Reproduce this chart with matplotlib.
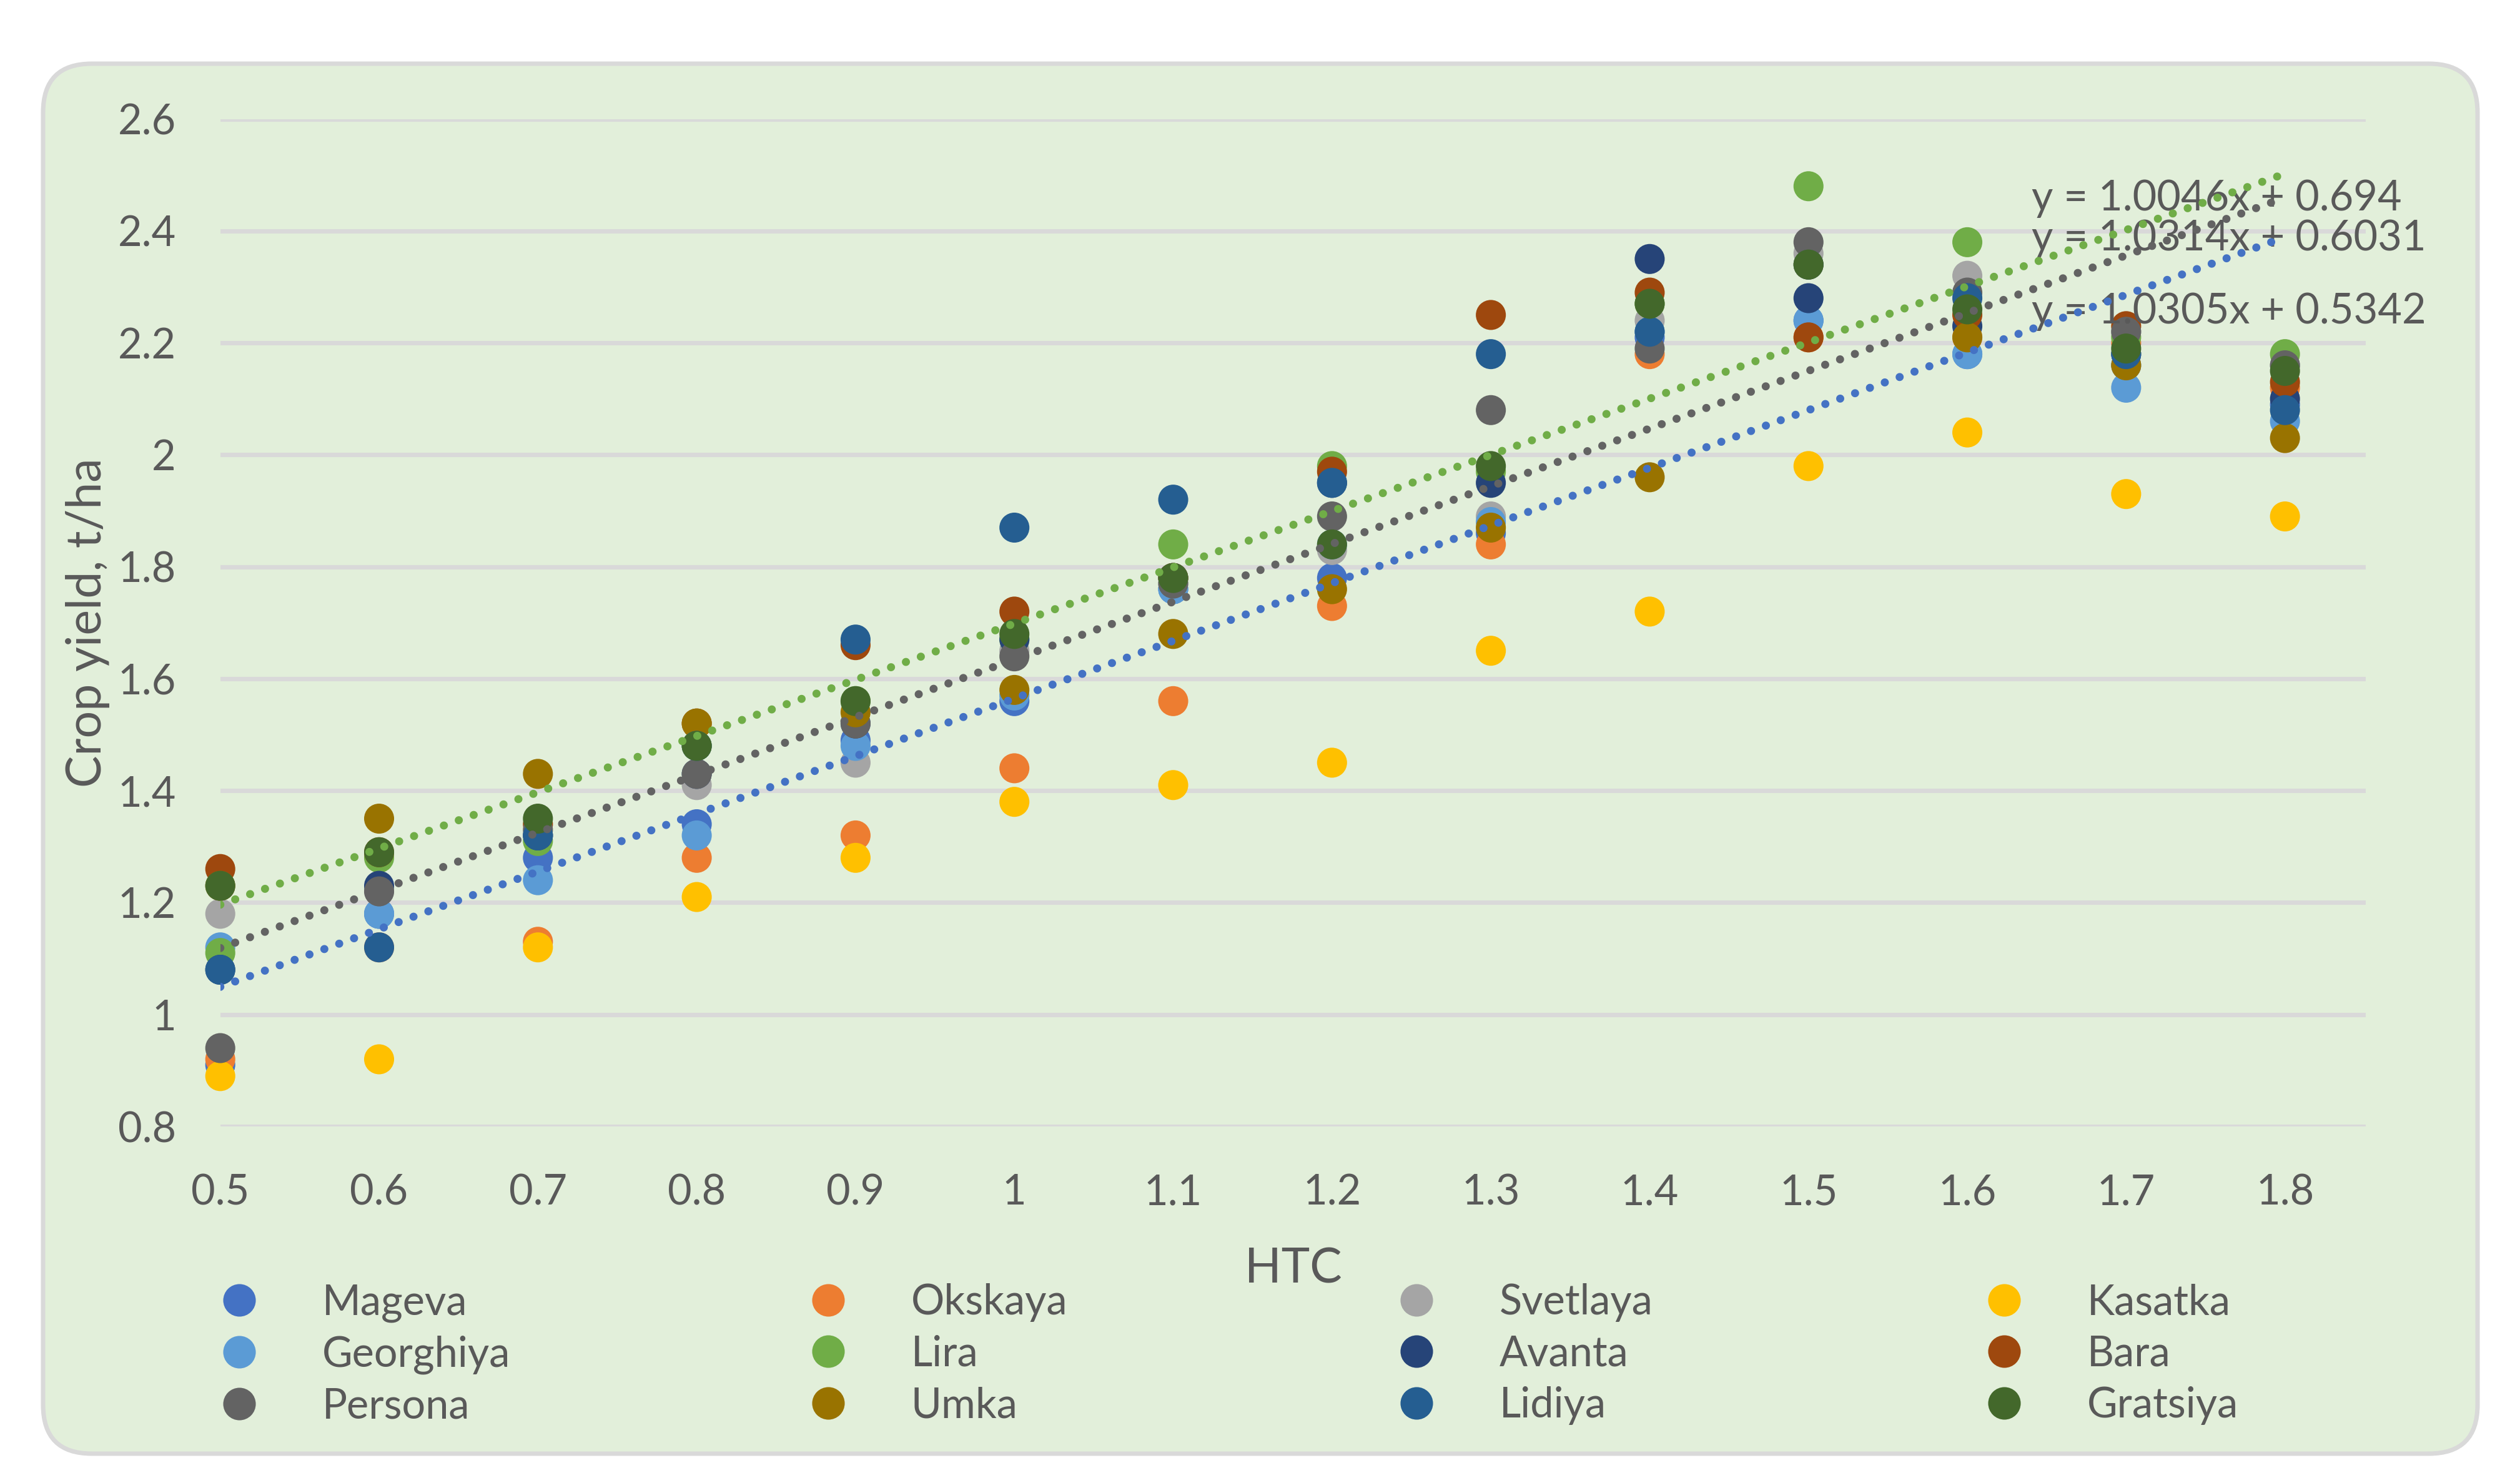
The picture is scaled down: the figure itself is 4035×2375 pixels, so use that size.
import matplotlib.pyplot as plt
from matplotlib.patches import FancyBboxPatch
from matplotlib.transforms import IdentityTransform
from matplotlib.lines import Line2D
from matplotlib.ticker import FuncFormatter

plt.rcParams['font.family'] = ['Lato', 'DejaVu Sans']

# HTC values on the x axis
htc = [0.5, 0.6, 0.7, 0.8, 0.9, 1.0, 1.1, 1.2, 1.3, 1.4, 1.5, 1.6, 1.7, 1.8]

# crop yield, t/ha, per variety
mageva    = [0.91, 1.18, 1.28, 1.34, 1.49, 1.56, 1.76, 1.78, 1.86, 2.21, 2.24, 2.18, 2.16, 2.09]
okskaya   = [0.92, 1.12, 1.13, 1.28, 1.32, 1.44, 1.56, 1.73, 1.84, 2.18, 2.21, 2.21, 2.20, 2.12]
svetlaya  = [1.18, 1.22, 1.32, 1.41, 1.45, 1.65, 1.77, 1.83, 1.89, 2.24, 2.36, 2.32, 2.22, 2.16]
kasatka   = [0.89, 0.92, 1.12, 1.21, 1.28, 1.38, 1.41, 1.45, 1.65, 1.72, 1.98, 2.04, 1.93, 1.89]
georghiya = [1.12, 1.18, 1.24, 1.32, 1.48, 1.57, 1.76, 1.84, 1.88, 2.22, 2.24, 2.18, 2.12, 2.06]
lira      = [1.11, 1.28, 1.31, 1.48, 1.56, 1.67, 1.84, 1.98, 1.97, 2.27, 2.48, 2.38, 2.21, 2.18]
avanta    = [1.08, 1.23, 1.32, 1.43, 1.52, 1.67, 1.78, 1.95, 1.95, 2.35, 2.28, 2.23, 2.18, 2.10]
bara      = [1.26, 1.29, 1.34, 1.52, 1.66, 1.72, 1.78, 1.97, 2.25, 2.29, 2.21, 2.25, 2.23, 2.13]
persona   = [0.94, 1.22, 1.33, 1.43, 1.52, 1.64, 1.77, 1.89, 2.08, 2.19, 2.38, 2.29, 2.22, 2.16]
umka      = [1.23, 1.35, 1.43, 1.52, 1.54, 1.58, 1.68, 1.76, 1.87, 1.96, 2.34, 2.21, 2.16, 2.03]
lidiya    = [1.08, 1.12, 1.32, 1.48, 1.67, 1.87, 1.92, 1.95, 2.18, 2.22, 2.34, 2.28, 2.18, 2.08]
gratsiya  = [1.23, 1.29, 1.35, 1.48, 1.56, 1.68, 1.78, 1.84, 1.98, 2.27, 2.34, 2.26, 2.19, 2.15]

names = ['Mageva', 'Okskaya', 'Svetlaya', 'Kasatka',
         'Georghiya', 'Lira', 'Avanta', 'Bara',
         'Persona', 'Umka', 'Lidiya', 'Gratsiya']
values = [mageva, okskaya, svetlaya, kasatka,
          georghiya, lira, avanta, bara,
          persona, umka, lidiya, gratsiya]
colors = ['#4472C4', '#ED7D31', '#A5A5A5', '#FFC000',
          '#5B9BD5', '#70AD47', '#264478', '#9E480E',
          '#636363', '#997300', '#255E91', '#43682B']

# linear trendlines shown on the chart
trend_colors = ['#70AD47', '#636363', '#4472C4']
trend_slopes = [1.0046, 1.0314, 1.0305]
trend_intercepts = [0.694, 0.6031, 0.5342]
trend_labels = ['y = 1.0046x + 0.694', 'y = 1.0314x + 0.6031', 'y = 1.0305x + 0.5342']
label_y = [2.437, 2.365, 2.235]

txt = '#595959'
W, H = 4035, 2375
fig = plt.figure(figsize=(W / 300, H / 300), dpi=300)
fig.patch.set_facecolor('white')

# chart area with rounded corners
frame = FancyBboxPatch((69, 47), 3898, 2226,
                       boxstyle='round,pad=0,rounding_size=78',
                       transform=IdentityTransform(),
                       facecolor='#E2EFDA', edgecolor='#D9D9D9', linewidth=1.7,
                       zorder=-5)
fig.patches.append(frame)

ax = fig.add_axes([352.7 / W, 1 - 1804 / H, (3787.6 - 352.7) / W, (1804 - 190.7) / H])
ax.patch.set_visible(False)
for s in ax.spines.values():
    s.set_visible(False)

for name, vals, c in zip(names, values, colors):
    ax.scatter(htc, vals, s=133, color=c, edgecolors='none', zorder=3, label=name,
               clip_on=False)

for c, k, b in zip(trend_colors, trend_slopes, trend_intercepts):
    xs = [htc[0], htc[-1]]
    ys = [k * x + b for x in xs]
    ax.plot(xs, ys, color=c, lw=3.1, dashes=(0.01, 1.95),
            dash_capstyle='round', zorder=5)

for t, yy in zip(trend_labels, label_y):
    ax.text(1.6405, yy, t, fontsize=16, color=txt, va='baseline', ha='left', zorder=4)

ax.set_xlim(0.5, 1.8507)
ax.set_ylim(0.8, 2.6)
ax.set_xticks(htc)
ax.set_yticks([0.8, 1.0, 1.2, 1.4, 1.6, 1.8, 2.0, 2.2, 2.4, 2.6])
fmt = FuncFormatter(lambda v, p: ('%.1f' % v).rstrip('0').rstrip('.'))
ax.xaxis.set_major_formatter(fmt)
ax.yaxis.set_major_formatter(fmt)
ax.tick_params(axis='x', length=0, pad=18, labelsize=16, labelcolor=txt)
ax.tick_params(axis='y', length=0, pad=17, labelsize=16, labelcolor=txt)
ax.grid(axis='y', color='#D9D9D9', linewidth=1.7, zorder=0)
ax.set_axisbelow(True)

fig.text(141 / W, 1 - 997 / H, 'Crop yield, t/ha', rotation=90, ha='center', va='center',
         fontsize=18.5, color=txt)
fig.text(2071 / W, 1 - 2033 / H, 'HTC', ha='center', va='center', fontsize=18.5, color=txt)

# legend: four columns, filled row by row like the original
col_left = [349.7, 1292.7, 2234.7, 3175.7]
for col in range(4):
    hs, ls = [], []
    for row in range(3):
        i = row * 4 + col
        hs.append(Line2D([], [], marker='o', ls='', color=colors[i], markersize=11.5))
        ls.append(names[i])
    fig.legend(hs, ls, loc='upper left', bbox_to_anchor=(col_left[col] / W, 1 - 2055 / H),
               frameon=False, fontsize=16, labelcolor=txt, handlelength=1.0,
               handletextpad=1.494, labelspacing=0.31, borderpad=0, borderaxespad=0)

fig.savefig('out.png', dpi=300, facecolor='white')
